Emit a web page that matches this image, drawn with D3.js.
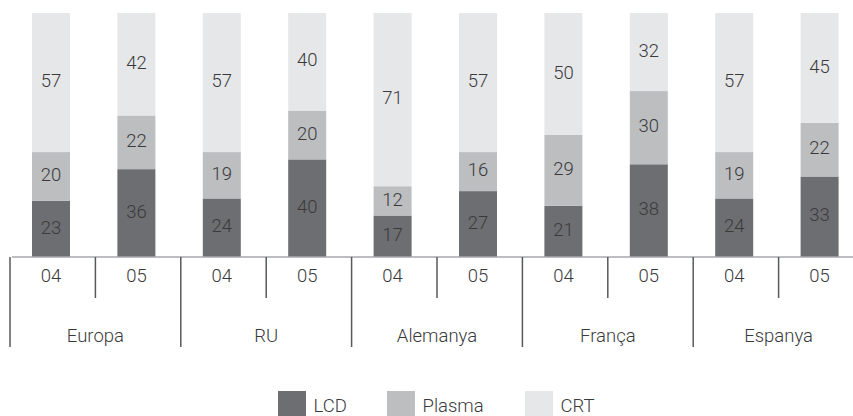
<!DOCTYPE html>
<html>
<head>
<meta charset="utf-8">
<script src="https://cdn.jsdelivr.net/npm/d3@7"></script>
<style>
  html, body { margin: 0; padding: 0; background: #fff; }
  svg { display: block; }
  text { font-family: "Roboto", sans-serif; font-weight: 300; fill: #3a3a3c; }
</style>
</head>
<body>
<svg id="chart" width="853" height="416"></svg>
<script>
const groups = ["Europa", "RU", "Alemanya", "França", "Espanya"];
const years = ["04", "05"];
const seriesNames = ["LCD", "Plasma", "CRT"];
const lcd    = [23, 36, 24, 40, 17, 27, 21, 38, 24, 33];
const plasma = [20, 22, 19, 20, 12, 16, 29, 30, 19, 22];
const crt    = [57, 42, 57, 40, 71, 57, 50, 32, 57, 45];
const colors = ["#6d6e71", "#bcbec0", "#e6e7e8"];

const svg = d3.select("#chart");
const fontSize = 18.5;

const rows = [];
groups.forEach((g, gi) => years.forEach((y, yi) => {
  const i = gi * 2 + yi;
  rows.push({ key: g + "-" + y, group: g, year: y, LCD: lcd[i], Plasma: plasma[i], CRT: crt[i] });
}));

const x = d3.scaleBand().domain(rows.map(d => d.key)).range([10, 864]);
const gx = d3.scaleBand().domain(groups).range([10, 864]);
const y = d3.scaleLinear().domain([0, 100]).range([257, 13]);
const barW = 38, barOff = 22;
const color = d3.scaleOrdinal().domain(seriesNames).range(colors);

const stack = d3.stack().keys(seriesNames)(rows);

const layer = svg.append("g").selectAll("g").data(stack).join("g")
  .attr("fill", s => color(s.key));
layer.selectAll("rect").data(s => s).join("rect")
  .attr("x", d => x(d.data.key) + barOff)
  .attr("width", barW)
  .attr("y", d => y(d[1]))
  .attr("height", d => y(d[0]) - y(d[1]));

const lab = svg.append("g").attr("text-anchor", "middle").attr("font-size", fontSize);
stack.forEach(s => {
  s.forEach(d => {
    lab.append("text")
      .attr("x", x(d.data.key) + barOff + barW / 2)
      .attr("y", (y(d[0]) + y(d[1])) / 2 - 2)
      .attr("dy", "0.36em")
      .text(d.data[s.key]);
  });
});

// axis
const ax = svg.append("g");
ax.append("line").attr("x1", 12).attr("x2", 853).attr("y1", 257).attr("y2", 257)
  .attr("stroke", "#a7a9ac").attr("stroke-width", 1.5);
// group separators
ax.selectAll("line.g").data(groups).join("line").attr("class", "g")
  .attr("x1", d => gx(d)).attr("x2", d => gx(d))
  .attr("y1", 257).attr("y2", 347)
  .attr("stroke", "#58595b").attr("stroke-width", 1.5);
// year separators
ax.selectAll("line.t").data(groups).join("line").attr("class", "t")
  .attr("x1", d => gx(d) + gx.bandwidth() / 2).attr("x2", d => gx(d) + gx.bandwidth() / 2)
  .attr("y1", 257).attr("y2", 298)
  .attr("stroke", "#58595b").attr("stroke-width", 1.5);
// year labels
ax.selectAll("text.yr").data(rows).join("text").attr("class", "yr")
  .attr("x", d => x(d.key) + barOff + barW / 2)
  .attr("y", 282)
  .attr("text-anchor", "middle").attr("font-size", fontSize)
  .text(d => d.year);
// group labels
ax.selectAll("text.gr").data(groups).join("text").attr("class", "gr")
  .attr("x", d => gx(d) + gx.bandwidth() / 2)
  .attr("y", 342)
  .attr("text-anchor", "middle").attr("font-size", fontSize)
  .text(d => d);

// legend
const legX = [278, 387, 525];
const leg = svg.append("g");
seriesNames.forEach((n, i) => {
  leg.append("rect").attr("x", legX[i]).attr("y", 391).attr("width", 28).attr("height", 28)
    .attr("fill", color(n));
  leg.append("text").attr("x", legX[i] + 35.5).attr("y", 412).attr("font-size", fontSize).text(n);
});
</script>
</body>
</html>
